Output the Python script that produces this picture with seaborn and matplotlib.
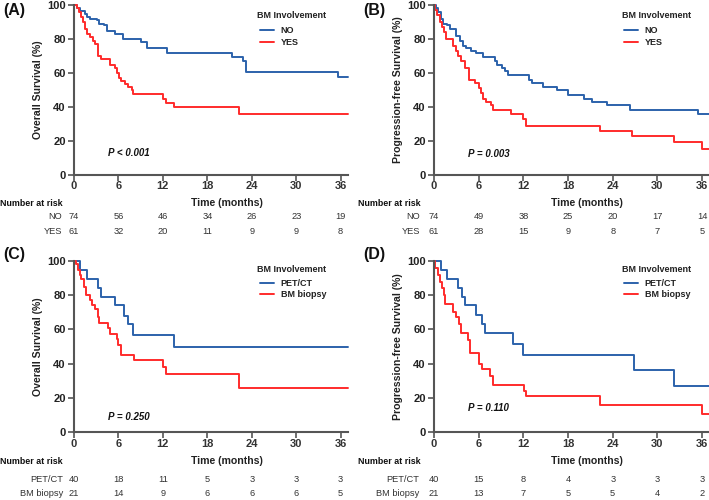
import numpy as np
import pandas as pd
import matplotlib
matplotlib.use("Agg")
import matplotlib.pyplot as plt
import seaborn as sns
from matplotlib.transforms import blended_transform_factory as btf

# ---------------- data ----------------
months = [0, 6, 12, 18, 24, 30, 36]
yticks = [0, 20, 40, 60, 80, 100]

a_no_t = [0, 0.45, 0.8, 1.5, 1.8, 2.2, 3.05, 3.4, 4.0, 4.4, 5.5, 6.65, 9.1, 9.8, 12.5, 21.3, 22.8, 23.2, 35.6, 37.0]
a_no_s = [100, 98, 96.5, 94.5, 93, 92, 91, 89, 88, 84.5, 83, 80, 78, 75, 72, 69.5, 67, 60.5, 57.5, 57.5]
a_yes_t = [0, 0.35, 0.7, 1.0, 1.25, 1.5, 1.7, 2.2, 2.5, 2.8, 3.2, 3.3, 3.7, 4.8, 5.5, 5.8, 6.1, 6.4, 6.9, 7.3, 7.8, 8.0, 12.0, 12.4, 13.5, 22.3, 37.0]
a_yes_s = [100, 98, 96, 93, 90, 86, 83, 81, 79, 77, 73, 70, 68.5, 65, 63, 60, 57, 55.5, 53.5, 52, 50, 47.5, 45, 42.5, 40, 36, 36]

b_no_t = [0, 0.3, 0.6, 0.9, 1.2, 1.7, 2.1, 3.0, 3.5, 3.9, 4.35, 5.0, 5.7, 6.6, 8.2, 8.5, 9.1, 9.5, 10.0, 12.7, 13.1, 14.7, 16.5, 18.0, 20.1, 21.2, 23.2, 26.3, 35.5, 37.0]
b_no_s = [100, 98, 96, 92, 89, 88, 86, 82, 79, 76, 75, 73, 71.5, 69.5, 67, 65, 63, 61, 59, 56, 54, 52, 50, 47, 45, 43, 41, 38.5, 36, 36]
b_yes_t = [0, 0.2, 0.45, 0.75, 1.1, 1.35, 1.65, 2.55, 3.0, 3.25, 3.6, 4.1, 4.65, 5.55, 6.0, 6.3, 6.6, 7.0, 7.7, 7.9, 10.4, 12.0, 12.3, 22.3, 26.6, 32.2, 36.0, 37.0]
b_yes_s = [100, 97, 94, 90, 87, 84, 80, 76, 73, 70, 67, 63, 56, 54, 51, 48, 45, 43, 41, 38, 36, 33, 29, 26, 23, 19.5, 15.5, 15.5]

c_pet_t = [0, 0.8, 1.7, 3.3, 3.6, 5.5, 6.7, 7.3, 7.9, 13.5, 37.0]
c_pet_s = [100, 95, 89.5, 84, 79, 74, 68, 63, 57, 50, 50]
c_bm_t = [0, 0.3, 0.6, 0.8, 1.0, 1.35, 1.6, 2.2, 2.4, 2.8, 3.2, 3.4, 4.6, 4.9, 5.8, 6.0, 6.3, 8.1, 12.0, 12.4, 22.3, 37.0]
c_bm_s = [100, 98, 95, 92, 89.5, 85, 80, 77, 74.5, 72, 67, 63.5, 61, 57.5, 54.5, 51, 45, 42, 38, 34, 25.5, 25.5]

d_pet_t = [0, 0.9, 1.8, 3.2, 3.8, 4.1, 5.6, 6.5, 6.8, 10.6, 11.9, 26.9, 32.2, 37.0]
d_pet_s = [100, 95, 89.5, 84, 79, 74, 68.5, 63, 58, 51.5, 45, 36, 27, 27]
d_bm_t = [0, 0.2, 0.55, 0.8, 1.1, 1.35, 1.5, 2.5, 3.0, 3.3, 3.6, 4.6, 4.8, 6.1, 6.4, 7.5, 7.9, 12.1, 12.3, 22.3, 36.0, 37.0]
d_bm_s = [100, 96, 92, 88, 84, 80, 75, 70, 67, 63, 58, 54, 46, 40, 37, 33, 27.5, 24, 21, 15.5, 10.5, 10.5]

a_risk_no = [74, 56, 46, 34, 26, 23, 19]
a_risk_yes = [61, 32, 20, 11, 9, 9, 8]
b_risk_no = [74, 49, 38, 25, 20, 17, 14]
b_risk_yes = [61, 28, 15, 9, 8, 7, 5]
c_risk_pet = [40, 18, 11, 5, 3, 3, 3]
c_risk_bm = [21, 14, 9, 6, 6, 6, 5]
d_risk_pet = [40, 15, 8, 4, 3, 3, 3]
d_risk_bm = [21, 13, 7, 5, 5, 4, 2]

group_top = ["NO", "YES"]
group_bot = ["PET/CT", "BM biopsy"]
panel_labels = ["(A)", "(B)", "(C)", "(D)"]
ylabels = ["Overall Survival (%)", "Progression-free Survival (%)",
           "Overall Survival (%)", "Progression-free Survival (%)"]
pvals = ["P < 0.001", "P = 0.003", "P = 0.250", "P = 0.110"]
legend_title = "BM Involvement"
xlabel = "Time (months)"
risk_title = "Number at risk"

# ---------------- style ----------------
sns.set_theme(style="ticks")
plt.rcParams['font.family'] = ['Liberation Sans', 'DejaVu Sans']

BLUE = "#2c62ab"
RED = "#ff2b2b"
SPINE = "#555555"
W, H = 709, 500

fig = plt.figure(figsize=(7.09, 5.0), dpi=100)

def px_ax(l, r, top, bot):
    return fig.add_axes([l / W, 1 - bot / H, (r - l) / W, (bot - top) / H])

panels = [
    dict(ax=px_ax(74, 348, 5, 175), series=[(a_no_t, a_no_s), (a_yes_t, a_yes_s)], groups=group_top,
         risk=[a_risk_no, a_risk_yes], pval_xy=(4.6, 12.9), lab_x=3, lab_y=10, rowlab_x=62,
         y_tick=186, y_time=203, y_rows=[217, 231], riskt_x=0,
         leg_title=(0.668, 0.941), leg_pos=(0.679, 0.815)),
    dict(ax=px_ax(434, 709.5, 5, 175), series=[(b_no_t, b_no_s), (b_yes_t, b_yes_s)], groups=group_top,
         risk=[b_risk_no, b_risk_yes], pval_xy=(4.6, 12.4), lab_x=363, lab_y=10, rowlab_x=420,
         y_tick=186, y_time=203, y_rows=[217, 231], riskt_x=358,
         leg_title=(0.682, 0.941), leg_pos=(0.69, 0.815)),
    dict(ax=px_ax(74, 348, 261, 432), series=[(c_pet_t, c_pet_s), (c_bm_t, c_bm_s)], groups=group_bot,
         risk=[c_risk_pet, c_risk_bm], pval_xy=(4.6, 9.0), lab_x=3, lab_y=255, rowlab_x=63,
         y_tick=444, y_time=461, y_rows=[479, 493], riskt_x=0,
         leg_title=(0.668, 0.953), leg_pos=(0.679, 0.836)),
    dict(ax=px_ax(434, 709.5, 261, 432), series=[(d_pet_t, d_pet_s), (d_bm_t, d_bm_s)], groups=group_bot,
         risk=[d_risk_pet, d_risk_bm], pval_xy=(4.6, 14.0), lab_x=363, lab_y=255, rowlab_x=419,
         y_tick=444, y_time=461, y_rows=[479, 493], riskt_x=358,
         leg_title=(0.682, 0.953), leg_pos=(0.69, 0.836)),
]

for i, p in enumerate(panels):
    ax = p["ax"]
    frames = []
    for (t, s), g in zip(p["series"], p["groups"]):
        frames.append(pd.DataFrame({"time": t, "surv": s, "group": g}))
    df = pd.concat(frames, ignore_index=True)
    sns.lineplot(data=df, x="time", y="surv", hue="group", hue_order=p["groups"],
                 palette=[BLUE, RED], estimator=None, drawstyle="steps-post",
                 linewidth=1.4, ax=ax, legend=True)
    ax.set_xlim(0, 37)
    ax.set_ylim(0, 100)
    ax.set_xticks(months)
    ax.set_xticklabels([])
    ax.set_yticks(yticks)
    ax.set_yticklabels([str(v) for v in yticks], fontsize=8, fontweight="bold", color="#222222")
    ax.set_xlabel("")
    ax.set_ylabel(ylabels[i], fontsize=7.6, fontweight="bold", color="#222222", labelpad=3)
    for side in ["top", "right"]:
        ax.spines[side].set_visible(False)
    for side in ["left", "bottom"]:
        ax.spines[side].set_color(SPINE)
        ax.spines[side].set_linewidth(1.5)
        ax.spines[side].set_clip_on(False)
    ax.tick_params(axis="both", direction="out", length=4, width=1.2, color=SPINE, pad=2)
    for ln in ax.get_lines():
        ln.set_clip_on(False)

    # legend (entries) + title as separate text
    leg = ax.legend(loc="center left", bbox_to_anchor=p["leg_pos"],
                    frameon=False, fontsize=6.5, handlelength=1.55, handletextpad=0.75,
                    labelspacing=0.3, borderpad=0.0, borderaxespad=0.0)
    for txt in leg.get_texts():
        txt.set_fontweight("bold")
        txt.set_color("#222222")
    ax.text(p["leg_title"][0], p["leg_title"][1], legend_title, transform=ax.transAxes,
            ha="left", va="center", fontsize=6.5, fontweight="bold", color="#222222")

    # p value
    ax.text(p["pval_xy"][0], p["pval_xy"][1], pvals[i], fontsize=7, fontweight="bold",
            fontstyle="italic", va="center", ha="left", color="#111111")

    # panel label
    fig.text(p["lab_x"] / W, 1 - p["lab_y"] / H, panel_labels[i], fontsize=11.5,
             fontweight="bold", va="center", ha="left", color="#111111")

    tr = btf(ax.transData, fig.transFigure)
    # x tick labels
    for m in months:
        ax.text(m, 1 - p["y_tick"] / H, str(m), transform=tr, ha="center", va="center",
                fontsize=8, fontweight="bold", color="#333333")
    # x label
    ax.text(20.6, 1 - p["y_time"] / H, xlabel, transform=tr, ha="center", va="center",
            fontsize=7.6, fontweight="bold", color="#222222")
    # risk table
    fig.text(p["riskt_x"] / W, 1 - p["y_time"] / H, risk_title, ha="left", va="center",
             fontsize=6.4, fontweight="bold", color="#111111")
    for row, g, yy in zip(p["risk"], p["groups"], p["y_rows"]):
        fig.text(p["rowlab_x"] / W, 1 - yy / H, g, ha="right", va="center",
                 fontsize=6.7, color="#333333")
        for m, n in zip(months, row):
            ax.text(m, 1 - yy / H, str(n), transform=tr, ha="center", va="center",
                    fontsize=6.7, color="#333333")

fig.savefig("out.png", dpi=100)
